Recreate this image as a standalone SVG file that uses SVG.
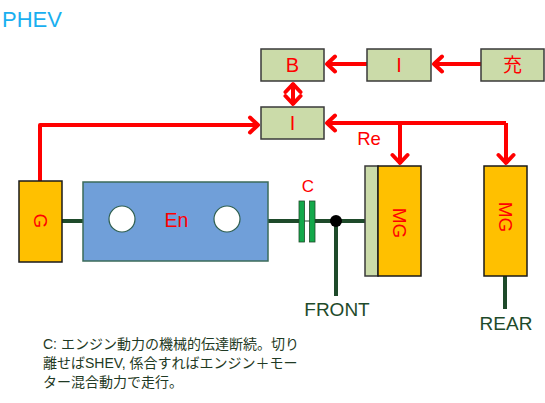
<svg xmlns="http://www.w3.org/2000/svg" width="545" height="403" viewBox="0 0 545 403">
<style>
.box{fill:#cbdba9;stroke:#3a3a3a;stroke-width:1.5}
.org{fill:#ffc000;stroke:#1a1a1a;stroke-width:1.5}
.lbl{font-family:"Liberation Sans","Noto Sans CJK JP",sans-serif;fill:#ff0000;text-anchor:middle}
.pw{fill:none;stroke:#ff0000;stroke-width:4;stroke-linejoin:round}
.shaft{fill:none;stroke:#1e4a2a;stroke-width:4}
.dg{font-family:"Liberation Sans",sans-serif;fill:#1e4a2a;font-size:19px;text-anchor:middle}
.note{font-family:"Liberation Sans","Noto Sans CJK JP",sans-serif;fill:#1f3a24;font-size:14px}
</style>
<defs>
<marker id="ah" viewBox="0 0 16 20" refX="13" refY="10" markerWidth="16" markerHeight="20" orient="auto-start-reverse" markerUnits="userSpaceOnUse">
<path d="M4,2.5 L12,10 L4,17.5" fill="none" stroke="#ff0000" stroke-width="4" stroke-linecap="round" stroke-linejoin="round"/>
</marker>
</defs>
<text x="2" y="27" font-family="Liberation Sans,sans-serif" font-size="22" fill="#19aff0">PHEV</text>

<g id="connectors">
<path class="pw" d="M481,64 L433,64" marker-end="url(#ah)"/>
<path class="pw" d="M367,64 L326,64" marker-end="url(#ah)"/>
<path class="pw" d="M293,83 L293,105" marker-start="url(#ah)" marker-end="url(#ah)"/>
<path class="pw" d="M40,181 L40,125 L259,125" marker-end="url(#ah)"/>
<path class="pw" d="M506,123 L326,123" marker-end="url(#ah)"/>
<path class="pw" d="M400,123 L400,164" marker-end="url(#ah)"/>
<path class="pw" d="M506,123 L506,164" marker-end="url(#ah)"/>
<path class="shaft" d="M62,221 L83,221"/>
<path class="shaft" d="M268,221 L300,221"/>
<path d="M304,221 L310,221" stroke="#1e4a2a" stroke-width="1"/>
<path class="shaft" d="M314,221 L365,221"/>
<path class="shaft" d="M336,221 L336,296"/>
<path class="shaft" d="M505,276 L505,309"/>
<circle cx="336" cy="221" r="6" fill="#000"/>
</g>

<g id="B"><rect class="box" x="261" y="49" width="63" height="32"/><text class="lbl" x="292.5" y="72" font-size="20">B</text></g>
<g id="I-top"><rect class="box" x="367" y="49" width="64" height="32"/><text class="lbl" x="399" y="72" font-size="20">I</text></g>
<g id="charger"><rect class="box" x="481" y="49" width="63" height="32"/><text class="lbl" x="512.5" y="72" font-size="19">充</text></g>
<g id="I-mid"><rect class="box" x="261" y="107" width="63" height="32"/><text class="lbl" x="292.5" y="130" font-size="20">I</text></g>

<g id="G"><rect class="org" x="19" y="181" width="43" height="81"/><text class="lbl" x="40.5" y="221" font-size="19" transform="rotate(90 40.5 221)" dy="7">G</text></g>

<g id="En"><rect x="83" y="182" width="185" height="79" fill="#709fd9" stroke="#3b6b5a" stroke-width="1.5"/>
<circle cx="122" cy="219" r="13" fill="#fff" stroke="#2f5f4f" stroke-width="1.2"/>
<circle cx="227" cy="219" r="13" fill="#fff" stroke="#2f5f4f" stroke-width="1.2"/>
<text class="lbl" x="176.5" y="227" font-size="19.5">En</text></g>

<g id="C"><rect x="299" y="201" width="5.5" height="41" fill="#13a84a" stroke="#1e4a2a" stroke-width="0.8"/>
<rect x="309.5" y="201" width="5.5" height="41" fill="#13a84a" stroke="#1e4a2a" stroke-width="0.8"/>
<text class="lbl" x="308" y="192" font-size="17">C</text></g>

<g id="MG-front"><rect class="box" x="365" y="166" width="13" height="110"/><rect class="org" x="378" y="166" width="43" height="110"/>
<text class="lbl" x="399.5" y="223" font-size="19" transform="rotate(90 399.5 223)" dy="7">MG</text></g>

<g id="MG-rear"><rect class="org" x="484" y="166" width="43" height="110"/>
<text class="lbl" x="505.5" y="217" font-size="19" transform="rotate(90 505.5 217)" dy="7">MG</text></g>

<text class="lbl" x="369" y="145" font-size="18.5">Re</text>
<text class="dg" x="337" y="316">FRONT</text>
<text class="dg" x="506" y="330">REAR</text>

<text class="note" x="43" y="349">C: エンジン動力の機械的伝達断続。切り</text>
<text class="note" x="43" y="368">離せばSHEV, 係合すればエンジン＋モー</text>
<text class="note" x="43" y="387">ター混合動力で走行。</text>
</svg>
